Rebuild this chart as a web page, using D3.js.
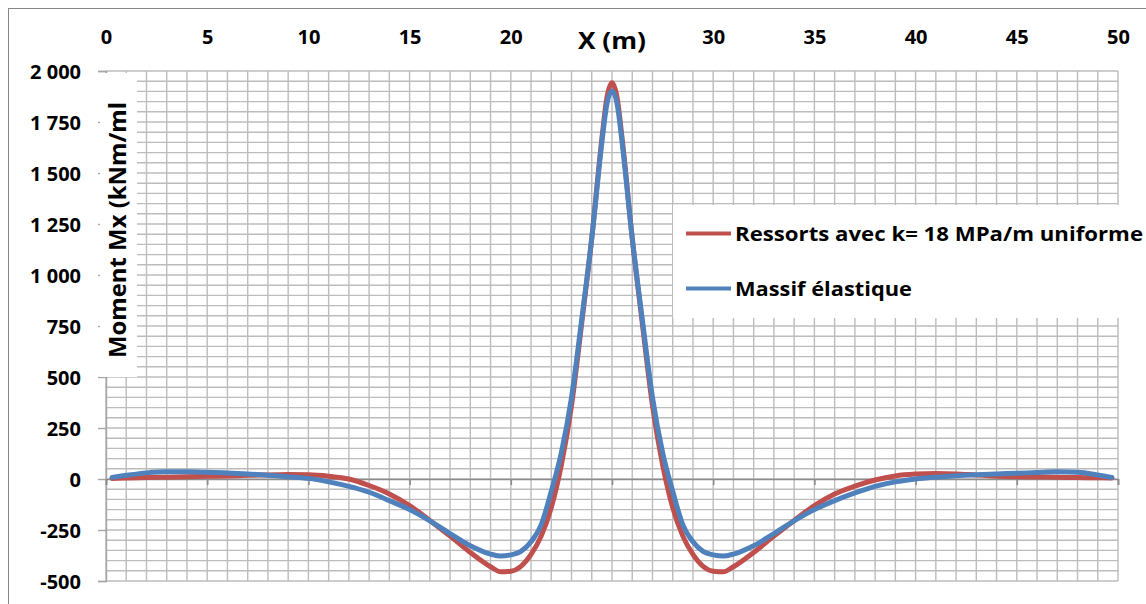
<!DOCTYPE html>
<html>
<head>
<meta charset="utf-8">
<script src="https://cdn.jsdelivr.net/npm/d3@7"></script>
<style>
  html, body { margin: 0; padding: 0; background: #fff; }
  svg { display: block; font-family: "Open Sans", Lato, sans-serif; font-weight: bold; }
</style>
</head>
<body>
<svg id="chart" width="1146" height="604"></svg>
<script>
// Position along the beam (m)
const xPos = [0.3, 1, 2, 3, 4, 5, 6, 7, 8, 9, 10, 11, 12, 13, 14, 15, 16, 17, 18, 19, 19.5, 20, 20.5,
  21, 21.5, 22, 22.5, 23, 23.5, 24, 24.5, 24.75, 25, 25.25, 25.5, 26, 26.5, 27, 27.5, 28, 28.5, 29,
  29.5, 30, 30.5, 31, 32, 33, 34, 35, 36, 37, 38, 39, 40, 41, 42, 43, 44, 45, 46, 47, 48, 49, 49.7];

// Bending moment Mx (kNm/ml), springs with uniform k = 18 MPa/m
const ressorts = [3, 5, 7, 9, 11, 13, 15, 18, 20, 22, 21, 14, 0, -32, -73, -130, -203, -280, -360, -430, -455, -452, -428,
  -370, -280, -140, 70, 360, 760, 1180, 1670, 1870, 1942, 1870, 1670, 1180, 760, 360, 70, -140, -280, -370,
  -428, -452, -455, -430, -360, -280, -203, -130, -73, -35, -5, 15, 24, 27, 25, 19, 14, 11, 10, 9, 7, 6, 5];

// Bending moment Mx (kNm/ml), elastic half-space
const massif = [8, 18, 30, 35, 35, 33, 30, 25, 18, 11, 3, -14, -36, -65, -106, -150, -205, -268, -327, -368, -378, -372, -355,
  -308, -225, -60, 130, 400, 780, 1180, 1650, 1840, 1902, 1840, 1650, 1180, 780, 400, 130, -60, -225, -308,
  -355, -372, -378, -368, -327, -268, -205, -150, -106, -68, -36, -14, 0, 9, 16, 21, 25, 28, 32, 35, 33, 20, 8];

const seriesNames = ["Ressorts avec k= 18 MPa/m uniforme", "Massif élastique"];
const seriesColors = ["#C0504D", "#4F81BD"];

const xTicks = [0, 5, 10, 15, 20, 30, 35, 40, 45, 50];
const yTicks = [-500, -250, 0, 250, 500, 750, 1000, 1250, 1500, 1750, 2000];
const yTickLabels = ["-500", "-250", "0", "250", "500", "750", "1 000", "1 250", "1 500", "1 750", "2 000"];
const xTitle = "X (m)";
const yTitle = "Moment Mx (kNm/ml";

const FONT = "'Open Sans', Lato, sans-serif";
const svg = d3.select("#chart");
const W = 1146, H = 604;
const plot = { left: 106, top: 71, right: 1118, bottom: 581 };

const x = d3.scaleLinear().domain([0, 50]).range([plot.left, plot.right]);
const y = d3.scaleLinear().domain([-500, 2000]).range([plot.bottom, plot.top]);

// outer chart frame
svg.append("rect")
  .attr("x", 8.5).attr("y", 8.5).attr("width", W).attr("height", H)
  .attr("fill", "#fff").attr("stroke", "#868686").attr("stroke-width", 1);

// grid: 1 m vertically, 50 kNm/ml horizontally
const grid = svg.append("g").attr("stroke", "#bcbcbc").attr("stroke-width", 1.4);
grid.selectAll("line.v").data(d3.range(0, 51, 1)).join("line")
  .attr("x1", d => x(d)).attr("x2", d => x(d))
  .attr("y1", plot.top).attr("y2", plot.bottom);
grid.selectAll("line.h").data(d3.range(-500, 2001, 50)).join("line")
  .attr("x1", plot.left).attr("x2", plot.right)
  .attr("y1", d => y(d)).attr("y2", d => y(d));

// y axis on the left with major ticks
const yAxis = svg.append("g")
  .attr("transform", `translate(${plot.left},0)`)
  .call(d3.axisLeft(y).tickValues(yTicks).tickSize(8).tickPadding(17)
    .tickFormat((d, i) => yTickLabels[i]));
yAxis.select(".domain").attr("stroke", "#a6a6a6").attr("stroke-width", 1.4);
yAxis.selectAll(".tick line").attr("stroke", "#a6a6a6").attr("stroke-width", 1.4);
yAxis.selectAll(".tick text")
  .attr("font-family", FONT).attr("font-weight", "bold")
  .attr("font-size", 20).attr("fill", "#000").attr("dy", "0.36em");

// x axis line crossing at M = 0, tick marks every 5 m
const xAxis = svg.append("g")
  .attr("transform", `translate(0,${y(0)})`)
  .call(d3.axisBottom(x).tickValues(d3.range(0, 51, 5)).tickSize(6).tickFormat(""));
xAxis.select(".domain").attr("stroke", "#8c8c8c").attr("stroke-width", 1.6);
xAxis.selectAll(".tick line").attr("stroke", "#8c8c8c").attr("stroke-width", 1.6);

// x tick labels placed above the plot
const xLabels = svg.append("g")
  .attr("transform", "translate(0,44)")
  .call(d3.axisTop(x).tickValues(xTicks).tickSize(0).tickPadding(0));
xLabels.select(".domain").remove();
xLabels.selectAll(".tick text")
  .attr("font-family", FONT).attr("font-weight", "bold")
  .attr("font-size", 20).attr("fill", "#000").attr("dy", 0);

// x title
svg.append("text")
  .attr("x", x(25)).attr("y", 49)
  .attr("text-anchor", "middle")
  .attr("font-size", 24).attr("fill", "#000")
  .attr("textLength", 68).attr("lengthAdjust", "spacingAndGlyphs")
  .text(xTitle);

// y title on its white box
svg.append("rect")
  .attr("x", 100).attr("y", 73).attr("width", 37).attr("height", 304)
  .attr("fill", "#fff");
svg.append("text")
  .attr("transform", `translate(126,358) rotate(-90)`)
  .attr("text-anchor", "start")
  .attr("font-size", 23).attr("fill", "#000")
  .attr("textLength", 256).attr("lengthAdjust", "spacingAndGlyphs")
  .text(yTitle);

// curves
const line = d3.line().x(d => x(d[0])).y(d => y(d[1])).curve(d3.curveMonotoneX);
[ressorts, massif].forEach((vals, i) => {
  svg.append("path")
    .datum(xPos.map((p, k) => [p, vals[k]]))
    .attr("d", line)
    .attr("fill", "none")
    .attr("stroke", seriesColors[i])
    .attr("stroke-width", 5)
    .attr("stroke-linecap", "round")
    .attr("stroke-linejoin", "round");
});

// legend
const legend = svg.append("g");
legend.append("rect")
  .attr("x", 673).attr("y", 205).attr("width", 480).attr("height", 113)
  .attr("fill", "#fff");
const legendY = [233.5, 288.5];
const legendWidths = [408, 177];
seriesNames.forEach((name, i) => {
  legend.append("line")
    .attr("x1", 686).attr("x2", 731)
    .attr("y1", legendY[i]).attr("y2", legendY[i])
    .attr("stroke", seriesColors[i]).attr("stroke-width", 4);
  legend.append("text")
    .attr("x", 735).attr("y", legendY[i] + 7.5)
    .attr("font-size", 20).attr("fill", "#000")
    .attr("textLength", legendWidths[i]).attr("lengthAdjust", "spacingAndGlyphs")
    .text(name);
});
</script>
</body>
</html>
